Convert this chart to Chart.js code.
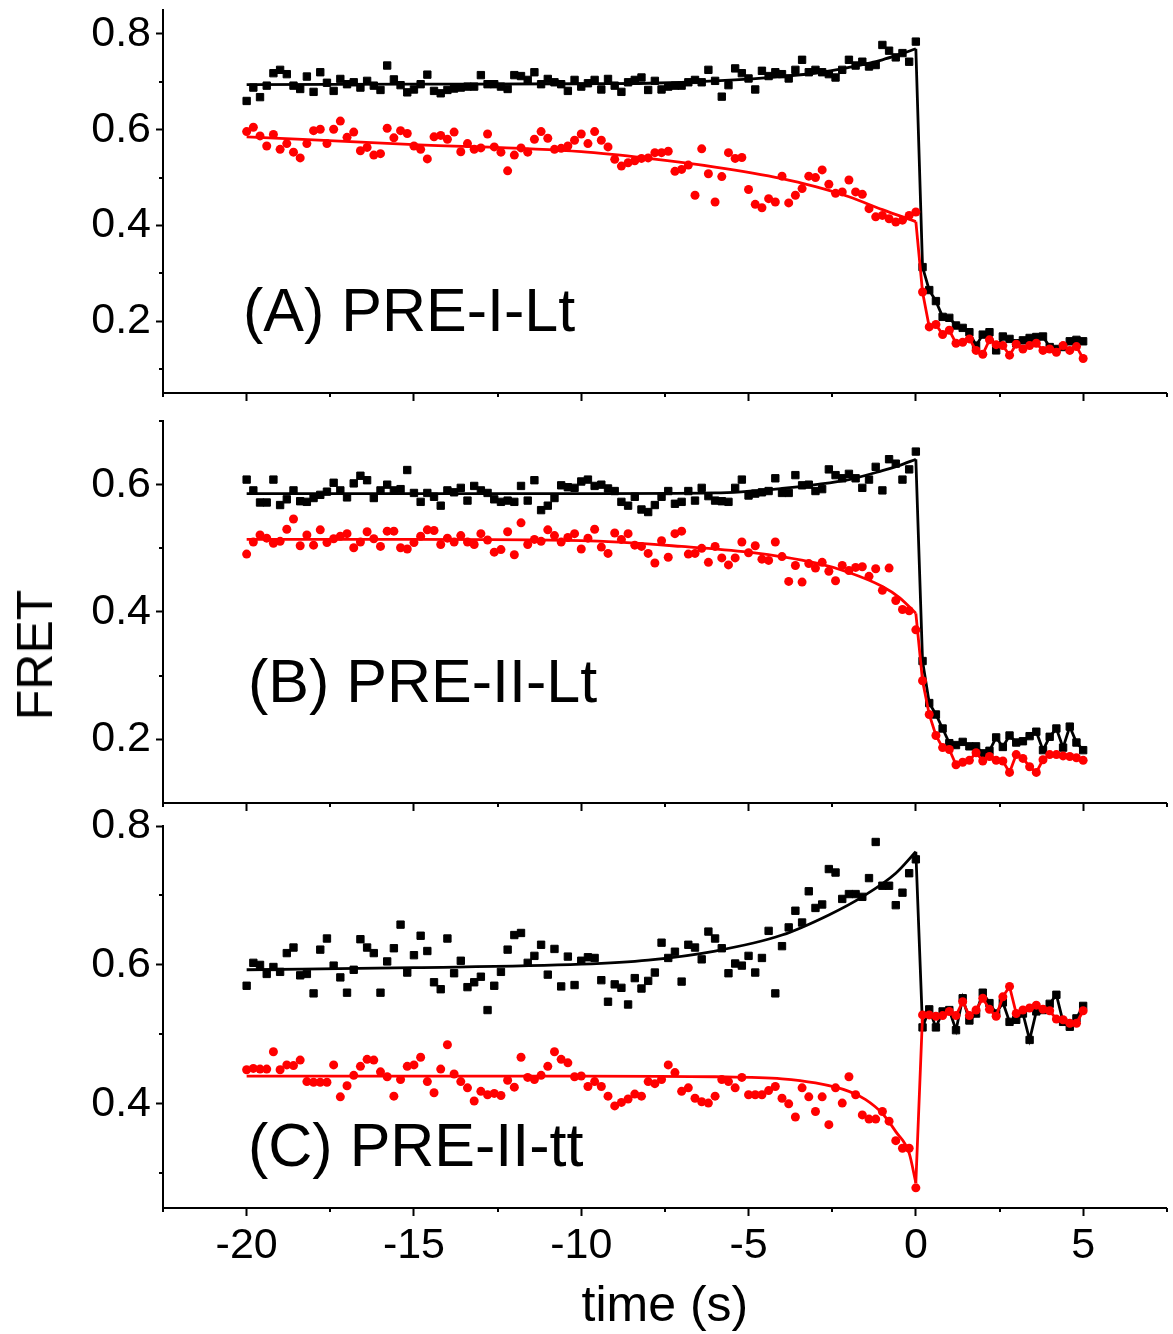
<!DOCTYPE html>
<html><head><meta charset="utf-8">
<script src="https://cdn.jsdelivr.net/npm/chart.js@4.4.1/dist/chart.umd.min.js"></script>
<style>
html,body{margin:0;padding:0;background:#fff;}
#wrap{position:relative;width:1173px;height:1334px;overflow:hidden;background:#fff;font-family:"Liberation Sans",Arial,sans-serif;}
canvas{position:absolute;left:0;}
.lbl{position:absolute;font-size:61px;line-height:61px;color:#000;white-space:nowrap;}
#fret{position:absolute;left:35px;top:655px;font-size:50px;line-height:50px;color:#000;transform:translate(-50%,-50%) rotate(-90deg);white-space:nowrap;}
</style></head><body>
<div id="wrap">
<canvas id="cA" width="1173" height="430" style="top:0px"></canvas>
<canvas id="cB" width="1173" height="430" style="top:400px"></canvas>
<canvas id="cC" width="1173" height="554" style="top:780px"></canvas>
<div class="lbl" style="left:243px;top:280px">(A) PRE-I-Lt</div>
<div class="lbl" style="left:248px;top:651px">(B) PRE-II-Lt</div>
<div class="lbl" style="left:248px;top:1115px">(C) PRE-II-tt</div>
<div id="fret">FRET</div>
</div>
<script>
// ---------- data ----------
const PRE_START = -20, STEP = 0.2, N_PRE = 101, N_POST = 25;
const xTickValues = [-20, -15, -10, -5, 0, 5];
const xMinorTicks = [-22.5, -17.5, -12.5, -7.5, -2.5, 2.5, 7.5];

// Panel A: PRE-I-Lt
const A_blackPre = [0.660,0.688,0.668,0.692,0.718,0.725,0.716,0.692,0.685,0.711,0.679,0.720,0.698,0.681,0.706,0.695,0.699,0.688,0.702,0.692,0.683,0.734,0.705,0.693,0.678,0.684,0.695,0.715,0.681,0.676,0.683,0.686,0.688,0.690,0.690,0.714,0.695,0.695,0.690,0.685,0.714,0.712,0.704,0.720,0.695,0.706,0.699,0.695,0.681,0.704,0.690,0.697,
0.704,0.684,0.706,0.692,0.679,0.699,0.704,0.709,0.683,0.702,0.684,0.690,0.692,0.692,0.699,0.704,0.699,0.725,0.702,0.669,0.693,0.728,0.718,0.707,0.684,0.723,0.712,0.720,0.716,0.707,0.725,0.746,0.720,0.725,0.720,0.716,0.709,0.725,0.746,0.734,0.742,0.732,0.735,0.777,0.765,0.751,0.760,0.742,0.784];
const A_redPre = [0.596,0.605,0.587,0.566,0.590,0.559,0.571,0.553,0.541,0.571,0.598,0.601,0.571,0.601,0.618,0.584,0.595,0.556,0.563,0.547,0.550,0.603,0.583,0.598,0.592,0.566,0.559,0.539,0.585,0.588,0.580,0.595,0.554,0.571,0.559,0.562,0.591,0.564,0.553,0.514,0.547,0.562,0.553,0.580,0.596,0.582,0.559,0.561,0.566,0.578,0.591,0.571,
0.596,0.578,0.564,0.538,0.524,0.531,0.535,0.540,0.541,0.552,0.552,0.555,0.513,0.517,0.526,0.463,0.560,0.508,0.449,0.502,0.552,0.540,0.542,0.475,0.444,0.437,0.456,0.449,0.503,0.447,0.463,0.477,0.503,0.500,0.516,0.486,0.467,0.470,0.495,0.470,0.465,0.435,0.418,0.421,0.414,0.407,0.411,0.421,0.428];
const A_blackPost = [0.313,0.265,0.242,0.209,0.207,0.191,0.186,0.177,0.149,0.172,0.177,0.139,0.168,0.163,0.154,0.160,0.165,0.167,0.168,0.146,0.142,0.146,0.158,0.161,0.158];
const A_redPost = [0.261,0.188,0.193,0.172,0.181,0.154,0.156,0.163,0.139,0.131,0.161,0.151,0.149,0.129,0.152,0.142,0.149,0.154,0.139,0.142,0.135,0.149,0.139,0.147,0.122];
const A_blackFitT = [-20,-15,-10,-8,-6,-4,-2.7,-2,-1,-0.5,0];
const A_blackFitV = [0.694,0.695,0.696,0.697,0.702,0.711,0.721,0.730,0.746,0.757,0.769];
const A_redFitT = [-20,-15,-10,-8,-6,-4,-3,-2,-1,0];
const A_redFitV = [0.585,0.569,0.554,0.540,0.522,0.498,0.481,0.460,0.433,0.408];

// Panel B: PRE-II-Lt
const B_blackPre = [0.608,0.591,0.572,0.572,0.608,0.568,0.577,0.591,0.574,0.573,0.579,0.584,0.589,0.603,0.591,0.580,0.602,0.614,0.607,0.579,0.591,0.600,0.591,0.593,0.623,0.587,0.573,0.587,0.581,0.567,0.591,0.588,0.595,0.575,0.598,0.591,0.587,0.577,0.573,0.575,0.573,0.598,0.575,0.607,0.560,0.567,0.579,0.599,0.596,0.595,0.605,0.608,
0.598,0.600,0.594,0.590,0.573,0.567,0.581,0.561,0.557,0.568,0.581,0.590,0.570,0.573,0.590,0.575,0.595,0.582,0.575,0.574,0.573,0.595,0.608,0.583,0.586,0.588,0.590,0.610,0.587,0.587,0.615,0.599,0.600,0.590,0.593,0.624,0.615,0.610,0.617,0.610,0.595,0.608,0.628,0.591,0.640,0.633,0.608,0.624,0.652];
const B_redPre = [0.491,0.510,0.521,0.516,0.508,0.511,0.530,0.546,0.504,0.521,0.505,0.529,0.509,0.515,0.519,0.523,0.501,0.510,0.526,0.515,0.503,0.527,0.527,0.501,0.499,0.509,0.519,0.529,0.528,0.506,0.516,0.510,0.520,0.510,0.506,0.523,0.513,0.494,0.498,0.526,0.490,0.540,0.506,0.514,0.511,0.529,0.520,0.510,0.517,0.523,0.499,0.516,
0.530,0.502,0.492,0.524,0.514,0.523,0.505,0.503,0.492,0.477,0.512,0.486,0.523,0.527,0.491,0.492,0.500,0.478,0.503,0.485,0.474,0.485,0.510,0.493,0.504,0.483,0.481,0.510,0.487,0.448,0.473,0.447,0.476,0.469,0.478,0.464,0.449,0.473,0.465,0.470,0.471,0.456,0.468,0.434,0.469,0.418,0.404,0.402,0.372];
const B_blackPost = [0.323,0.257,0.239,0.217,0.194,0.191,0.196,0.189,0.189,0.178,0.182,0.203,0.188,0.206,0.195,0.197,0.205,0.212,0.183,0.204,0.217,0.187,0.220,0.195,0.183];
const B_redPost = [0.292,0.239,0.206,0.187,0.184,0.160,0.164,0.167,0.179,0.166,0.173,0.167,0.166,0.148,0.176,0.170,0.157,0.148,0.168,0.176,0.176,0.174,0.173,0.171,0.167];
const B_blackFitT = [-20,-15,-10,-6,-4,-3,-2,-1,-0.5,0];
const B_blackFitV = [0.586,0.586,0.586,0.587,0.594,0.600,0.608,0.622,0.630,0.640];
const B_redFitT = [-20,-15,-10,-7,-5,-3,-2,-1,-0.5,0];
const B_redFitV = [0.514,0.514,0.512,0.503,0.494,0.477,0.462,0.440,0.423,0.398];

// Panel C: PRE-II-tt
const C_blackPre = [0.570,0.603,0.600,0.587,0.597,0.590,0.617,0.625,0.585,0.587,0.559,0.622,0.638,0.599,0.582,0.560,0.593,0.637,0.625,0.617,0.560,0.605,0.624,0.658,0.589,0.614,0.642,0.620,0.575,0.565,0.638,0.588,0.606,0.568,0.575,0.583,0.535,0.570,0.590,0.622,0.643,0.646,0.603,0.613,0.629,0.586,0.623,0.569,0.612,0.571,0.606,0.611,
0.610,0.578,0.547,0.572,0.567,0.543,0.581,0.566,0.577,0.589,0.632,0.610,0.619,0.576,0.629,0.625,0.608,0.648,0.638,0.624,0.588,0.602,0.599,0.613,0.589,0.610,0.649,0.559,0.627,0.654,0.678,0.661,0.706,0.682,0.687,0.738,0.733,0.695,0.702,0.702,0.698,0.725,0.777,0.714,0.714,0.686,0.704,0.732,0.752];
const C_redPre = [0.449,0.451,0.450,0.450,0.475,0.449,0.456,0.455,0.463,0.432,0.431,0.431,0.431,0.456,0.410,0.426,0.441,0.454,0.464,0.463,0.446,0.439,0.411,0.435,0.454,0.456,0.467,0.432,0.416,0.450,0.485,0.443,0.432,0.423,0.404,0.418,0.413,0.415,0.412,0.434,0.424,0.467,0.438,0.435,0.441,0.454,0.475,0.464,0.459,0.439,0.440,0.425,
0.432,0.425,0.411,0.397,0.402,0.407,0.414,0.411,0.432,0.429,0.435,0.456,0.445,0.418,0.423,0.408,0.403,0.401,0.411,0.435,0.432,0.423,0.438,0.413,0.413,0.413,0.419,0.425,0.408,0.400,0.381,0.423,0.410,0.389,0.410,0.370,0.423,0.401,0.439,0.413,0.384,0.378,0.378,0.389,0.375,0.347,0.336,0.336,0.279];
const C_blackPost = [0.510,0.536,0.510,0.533,0.535,0.506,0.552,0.520,0.530,0.560,0.545,0.530,0.546,0.518,0.521,0.530,0.492,0.533,0.535,0.544,0.557,0.518,0.511,0.523,0.541];
const C_redPost = [0.528,0.528,0.526,0.527,0.533,0.527,0.547,0.527,0.535,0.552,0.536,0.526,0.554,0.569,0.530,0.535,0.538,0.542,0.536,0.534,0.522,0.521,0.516,0.516,0.534];
const C_blackFitT = [-20,-15,-10,-8,-6,-4,-2.6,-1.6,-0.6,0];
const C_blackFitV = [0.593,0.596,0.601,0.607,0.620,0.643,0.672,0.698,0.732,0.763];
const C_redFitT = [-20,-10,-6,-4,-3,-2,-1.5,-1,-0.6,-0.2,0];
const C_redFitV = [0.440,0.440,0.439,0.436,0.430,0.418,0.406,0.386,0.360,0.329,0.286];

// sample times (0.2 s frames)
const preTimes = Array.from({length:N_PRE},(_,i)=>Math.round((PRE_START+i*STEP)*10)/10);
const postTimes = Array.from({length:N_POST},(_,i)=>Math.round((i+1)*STEP*10)/10);

// ---------- drawing ----------
Chart.defaults.font.family = '"Liberation Sans", Arial, sans-serif';
const RED = '#ff0000', BLACK = '#000000';
const LW = 2.8, R_SQ = 5.2, R_DOT = 4.5;
const pts = (ts, vs) => ts.map((t,i)=>({x:t, y:vs[i]}));

const minorTicksPlugin = {
  id: 'minorTicks',
  afterDraw(chart, args, opts) {
    const ctx = chart.ctx, xs = chart.scales.x, ys = chart.scales.y;
    ctx.save();
    ctx.strokeStyle = '#000'; ctx.lineWidth = 2;
    ctx.beginPath();
    (opts.y || []).forEach(v => { const p = Math.round(ys.getPixelForValue(v)); ctx.moveTo(ys.right, p); ctx.lineTo(ys.right - 4, p); });
    (opts.x || []).forEach(v => { const p = Math.round(xs.getPixelForValue(v)); ctx.moveTo(p, xs.top); ctx.lineTo(p, xs.top + 4); });
    ctx.stroke();
    ctx.restore();
  }
};

function makePanel(id, p) {
  const last = a => a[a.length-1];
  new Chart(document.getElementById(id), {
    type: 'scatter',
    data: { datasets: [
      { data: [{x:0, y:last(p.redFitV)}].concat(pts(postTimes, p.redPost)), showLine:true,
        borderColor:RED, borderWidth:LW, backgroundColor:RED, pointStyle:'circle',
        pointRadius: c => c.dataIndex === 0 ? 0 : R_DOT, pointBorderWidth:0, pointBackgroundColor:RED },
      { data: pts(p.redFitT, p.redFitV), showLine:true, borderColor:RED, borderWidth:LW,
        pointRadius:0, cubicInterpolationMode:'monotone' },
      { data: pts(preTimes, p.redPre), showLine:false, pointStyle:'circle', pointRadius:R_DOT,
        pointBorderWidth:0, pointBackgroundColor:RED, backgroundColor:RED, borderColor:RED },
      { data: [{x:0, y:last(p.blackFitV)}].concat(pts(postTimes, p.blackPost)), showLine:true,
        borderColor:BLACK, borderWidth:LW, backgroundColor:BLACK, pointStyle:'rect',
        pointRadius: c => c.dataIndex === 0 ? 0 : R_SQ, pointBorderWidth:1, pointBorderColor:BLACK, pointBackgroundColor:BLACK },
      { data: pts(p.blackFitT, p.blackFitV), showLine:true, borderColor:BLACK, borderWidth:LW,
        pointRadius:0, cubicInterpolationMode:'monotone' },
      { data: pts(preTimes, p.blackPre), showLine:false, pointStyle:'rect', pointRadius:R_SQ,
        pointBorderWidth:1, pointBorderColor:BLACK, pointBackgroundColor:BLACK, backgroundColor:BLACK, borderColor:BLACK }
    ]},
    options: {
      responsive:false, animation:false, events:[],
      layout:{ padding:{ top:p.padTop, right:0, left:0, bottom:0 } },
      plugins:{ legend:{display:false}, tooltip:{enabled:false},
        minorTicks:{ x:xMinorTicks, y:p.yMinor } },
      scales:{
        x:{ type:'linear', min:-22.5, max:7.5,
          afterBuildTicks: s => { s.ticks = xTickValues.map(v=>({value:v})); },
          afterFit: s => { s.height = p.xAxisH; s.paddingLeft = 0; s.paddingRight = 0; },
          grid:{ display:true, drawOnChartArea:false, drawTicks:true, tickLength:8, tickWidth:2, tickColor:'#000' },
          border:{ display:true, color:'#000', width:2 },
          ticks:{ display:p.showX, font:{size:43}, color:'#000', padding:4, maxRotation:0, autoSkip:false, callback: v => String(v) },
          title:{ display:p.showX, text:'time (s)', font:{size:50}, color:'#000', padding:{top:0,bottom:-3} }
        },
        y:{ type:'linear', min:p.yMin, max:p.yMax,
          afterBuildTicks: s => { s.ticks = p.yMajor.map(v=>({value:v})); },
          afterFit: s => { s.width = 163; s.paddingTop = 0; s.paddingBottom = 0; },
          grid:{ display:true, drawOnChartArea:false, drawTicks:true, tickLength:7, tickWidth:2, tickColor:'#000' },
          border:{ display:true, color:'#000', width:2 },
          ticks:{ font:{size:43}, color:'#000', padding:5, callback: v => Number(v).toFixed(1) }
        }
      }
    },
    plugins:[minorTicksPlugin]
  });
}

makePanel('cA', { blackPre:A_blackPre, redPre:A_redPre, blackPost:A_blackPost, redPost:A_redPost,
  blackFitT:A_blackFitT, blackFitV:A_blackFitV, redFitT:A_redFitT, redFitV:A_redFitV,
  yMin:0.05, yMax:0.85, yMajor:[0.2,0.4,0.6,0.8], yMinor:[0.1,0.3,0.5,0.7],
  padTop:10, xAxisH:37, showX:false });
makePanel('cB', { blackPre:B_blackPre, redPre:B_redPre, blackPost:B_blackPost, redPost:B_redPost,
  blackFitT:B_blackFitT, blackFitV:B_blackFitV, redFitT:B_redFitT, redFitV:B_redFitV,
  yMin:0.1, yMax:0.7, yMajor:[0.2,0.4,0.6], yMinor:[0.3,0.5,0.7],
  padTop:21, xAxisH:27, showX:false });
makePanel('cC', { blackPre:C_blackPre, redPre:C_redPre, blackPost:C_blackPost, redPost:C_redPost,
  blackFitT:C_blackFitT, blackFitV:C_blackFitV, redFitT:C_redFitT, redFitV:C_redFitV,
  yMin:0.25, yMax:0.8, yMajor:[0.4,0.6,0.8], yMinor:[0.3,0.5,0.7],
  padTop:46, xAxisH:126, showX:true });
</script>
</body></html>
